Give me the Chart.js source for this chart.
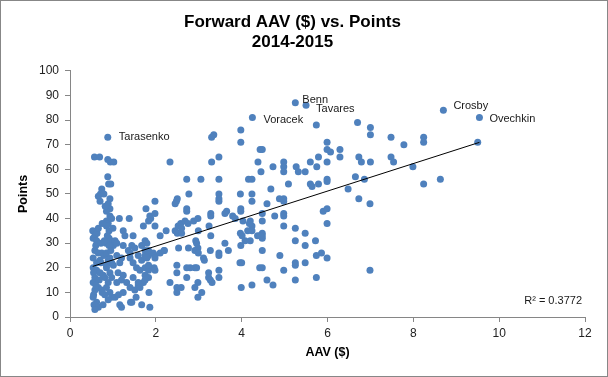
<!DOCTYPE html>
<html>
<head>
<meta charset="utf-8">
<script src="https://cdn.jsdelivr.net/npm/chart.js@4.4.0/dist/chart.umd.min.js"></script>
<style>
  html, body { margin: 0; padding: 0; background: #fff; }
  #wrap { width: 608px; height: 377px; }
</style>
</head>
<body>
<div id="wrap"><canvas id="aavChart"></canvas></div>
<script>
// AAV (millions $) and points for each forward
const aav = [
    0.57, 0.69, 0.88, 0.94, 1.02, 0.90, 0.95, 0.74,
    2.33, 2.72, 3.05, 3.47, 3.30, 3.47, 3.30, 3.35, 3.98, 3.98, 4.16, 4.24, 4.38, 4.43, 4.45,
    5.74, 6.70, 7.00, 7.00, 5.99, 5.99, 6.07, 6.29, 6.29, 4.48, 4.98, 4.73, 4.98, 4.98, 5.27, 5.32, 5.48,
    5.60, 5.79, 5.75, 5.99, 6.73, 6.79, 7.00, 7.48, 7.48, 7.54, 7.78, 8.24, 8.24, 7.99, 4.68, 5.09,
    5.60, 5.64, 5.79, 5.99, 5.99, 6.48, 6.65, 6.86, 8.24, 8.63, 9.50, 6.73, 6.99, 6.99,
    4.24, 4.24, 4.88, 4.98, 4.98, 4.59, 4.48, 4.77, 4.98, 4.98, 5.90, 5.99, 4.20, 4.48, 4.98, 5.25,
    5.48, 5.99, 4.24, 4.24, 4.37, 4.48, 4.48, 4.48, 4.20, 5.25, 5.72, 5.48, 4.48, 4.89, 5.74, 5.86,
    5.99, 5.25, 5.25, 5.48, 4.48, 4.98, 5.74, 4.59, 5.25, 4.73, 4.24,
    2.77, 3.47, 3.47, 3.47, 3.97, 2.48, 2.50, 2.45, 2.72, 2.72, 3.28, 3.28, 3.65, 3.61, 3.79, 3.85,
    3.98, 3.98, 4.14, 4.08, 3.98, 3.61, 3.69, 1.88, 1.86, 1.98, 1.77, 1.98, 1.98, 2.10, 2.24, 2.45,
    2.52, 2.58, 2.68, 2.75, 2.50, 2.60, 2.88, 2.98, 2.99, 3.28, 3.24, 2.53, 2.19, 1.94, 1.98, 1.98,
    1.83, 1.75, 1.75, 2.93, 2.95, 2.98, 2.91, 2.99, 3.11, 3.13, 3.27, 3.47, 3.47, 3.96, 4.00, 3.47,
    3.23, 3.23, 3.27, 3.31, 2.91, 2.95, 2.80, 2.72, 2.72, 2.49, 2.49, 2.33, 2.49, 2.59, 2.49, 2.98,
    2.91, 2.98, 3.07, 3.47, 3.99, 1.84, 1.86, 1.75, 1.83, 1.96, 1.98, 1.75, 1.83,
    4.03, 4.18, 2.60, 2.76, 3.97, 4.01, 4.43, 4.42, 2.10, 2.20, 1.59, 1.71, 1.54, 1.67, 1.41,
    0.71, 0.66, 0.79, 0.70, 0.89, 0.93, 0.85, 0.93, 1.15, 1.38, 0.85, 0.89, 0.85, 0.91, 1.71, 1.83,
    0.53, 0.58, 0.63, 0.54, 0.62, 1.24, 1.28, 1.47, 0.87, 0.91, 0.95, 0.84, 1.01, 0.91, 1.24, 1.44,
    1.51, 1.67, 1.83, 0.58, 0.66, 0.54, 0.74, 0.79, 0.85, 0.93, 0.89, 0.97, 0.85, 1.01, 1.09, 1.20,
    1.16, 1.40, 1.47, 1.59, 1.67, 1.79, 1.83, 0.54, 0.62, 0.55, 0.70, 0.58, 0.77, 0.85, 0.93, 0.81,
    0.97, 0.89, 1.12, 1.24, 1.20, 1.09, 1.32, 1.47, 1.59, 1.40, 1.51, 1.63, 1.75, 0.54, 0.66, 0.58,
    0.74, 0.55, 0.85, 0.93, 0.81, 0.97, 0.89, 0.54, 0.62, 0.56, 0.66, 0.58, 0.77, 1.16, 1.20, 1.44,
    1.05, 1.13, 1.24, 0.62, 0.70, 1.05, 1.09, 1.36, 1.40, 1.75, 1.79, 1.55, 1.63,
    0.60, 0.72, 0.66, 0.75, 0.80, 0.68, 0.75, 0.60, 0.72, 0.95, 1.00, 0.97, 0.93, 0.88, 0.82
];
const pts = [
    65, 65, 64, 63, 63, 54, 54, 52,
    63, 56, 56, 56, 63, 65, 73, 74, 76, 71, 56, 56, 63, 68, 59,
    78, 79, 77, 74, 71, 68, 67, 68, 65, 68, 63, 61, 61, 59, 61, 59, 59,
    63, 65, 61, 63, 65, 63, 63, 73, 65, 63, 70, 73, 71, 61, 52, 54,
    54, 53, 54, 56, 55, 52, 57, 56, 54, 56, 71, 48, 46, 19,
    50, 47, 48, 48, 47, 46, 42, 41, 42, 41, 43, 44, 39, 39, 37, 36,
    34, 38, 37, 35, 33, 34, 33, 32, 31, 31, 31, 29, 27, 25, 25, 26,
    24, 22, 21, 22, 20, 19, 16, 15, 15, 13, 13,
    50, 50, 48, 47, 50, 47, 48, 46, 44, 43, 42, 41, 43, 42, 41, 40,
    44, 43, 35, 31, 29, 30, 27, 40, 41, 47, 44, 42, 37, 33, 35, 35,
    37, 38, 39, 38, 34, 36, 39, 40, 35, 33, 37, 28, 27, 26, 25, 24,
    25, 27, 25, 31, 30, 28, 27, 26, 24, 23, 27, 26, 25, 22, 22, 19,
    18, 16, 15, 14, 20, 20, 20, 20, 16, 21, 18, 14, 12, 12, 10, 14,
    12, 8, 10, 16, 12, 10, 4, 20, 19, 20, 19, 17, 16,
    39, 38, 34, 28, 34, 33, 33, 20, 26, 27, 13, 14, 8, 5, 6,
    50, 49, 50, 47, 46, 44, 43, 41, 40, 40, 39, 38, 37, 35, 37, 39,
    35, 33, 34, 32, 31, 35, 33, 33, 33, 32, 31, 30, 29, 29, 29, 29,
    28, 29, 27, 27, 26, 24, 26, 25, 26, 24, 23, 22, 21, 21, 25, 24,
    22, 24, 22, 25, 23, 24, 21, 20, 19, 18, 18, 16, 17, 20, 18, 16,
    16, 14, 18, 17, 15, 14, 14, 16, 14, 12, 11, 12, 15, 14, 12, 11,
    11, 9, 12, 10, 9, 8, 7, 8, 6, 5, 4, 3, 5, 5, 4, 6,
    8, 9, 10, 22, 23, 31, 30, 27, 26, 31, 30, 20, 19,
    29, 30, 36, 38, 31, 15, 10, 13, 22, 27, 36, 40, 48, 57, 45
];

// labelled players
const starNames = ['Tarasenko', 'Benn', 'Tavares', 'Voracek', 'Crosby', 'Ovechkin'];
const starAav = [0.88, 5.25, 5.50, 4.25, 8.70, 9.54];
const starPts = [73, 87, 86, 81, 84, 81];

// linear trendline as drawn on the picture: points = slope * AAV + intercept
const trendSlope = 5.59;
const trendIntercept = 17.6;
const rSquaredText = 'R² = 0.3772';

const FONT = "'Liberation Sans', Arial, sans-serif";

// scatter points
const allX = aav.concat(starAav);
const allY = pts.concat(starPts);
const scatterData = allX.map((x, i) => ({ x: x, y: allY[i] }));

// trendline spans the data range
const minX = Math.min(...allX);
const maxX = Math.max(...allX);
const trendData = [
    { x: minX, y: trendIntercept + trendSlope * minX },
    { x: maxX, y: trendIntercept + trendSlope * maxX }
];

// white background + outer frame
const framePlugin = {
    id: 'frame',
    beforeDraw: (chart) => {
        const { ctx, width, height } = chart;
        ctx.save();
        ctx.fillStyle = '#fff';
        ctx.fillRect(0, 0, width, height);
        ctx.restore();
    },
    afterDraw: (chart) => {
        const { ctx, width, height } = chart;
        ctx.save();
        ctx.strokeStyle = '#878787';
        ctx.lineWidth = 1;
        ctx.strokeRect(0.5, 0.5, width - 1, height - 1);
        ctx.restore();
    }
};

// name labels next to points + R² text
const labelOffsets = [[11, 0], [7, -3], [10, 4], [11, 2], [10, -4], [10, 1]];
const labelPlugin = {
    id: 'pointLabels',
    afterDatasetsDraw: (chart) => {
        const { ctx, chartArea, scales: { x, y } } = chart;
        ctx.save();
        ctx.font = '11px ' + FONT;
        ctx.fillStyle = '#1a1a1a';
        ctx.textBaseline = 'middle';
        ctx.textAlign = 'left';
        starNames.forEach((name, i) => {
            const px = x.getPixelForValue(starAav[i]);
            const py = y.getPixelForValue(starPts[i]);
            ctx.fillText(name, px + labelOffsets[i][0], py + labelOffsets[i][1]);
        });
        ctx.textAlign = 'right';
        ctx.fillText(rSquaredText, chartArea.right - 3, chartArea.bottom - 16);
        ctx.restore();
    }
};

const axisGray = '#868686';

new Chart(document.getElementById('aavChart').getContext('2d'), {
    data: {
        datasets: [
            {
                type: 'line',
                label: 'Trend',
                data: trendData,
                borderColor: '#000',
                borderWidth: 1,
                pointRadius: 0,
                fill: false,
                order: 0
            },
            {
                type: 'scatter',
                label: 'Forwards',
                data: scatterData,
                backgroundColor: '#4F81BD',
                borderWidth: 0,
                pointRadius: 3.5,
                order: 1
            }
        ]
    },
    options: {
        responsive: true,
        maintainAspectRatio: false,
        animation: false,
        layout: { padding: { left: 0, right: 23, top: 0, bottom: 0 } },
        plugins: {
            legend: { display: false },
            tooltip: { enabled: false },
            title: {
                display: true,
                text: ['Forward AAV ($) vs. Points', '2014-2015'],
                color: '#000',
                font: { family: FONT, size: 17, weight: 'bold', lineHeight: 1.2 },
                padding: { top: 12, bottom: 18 }
            }
        },
        scales: {
            x: {
                type: 'linear',
                min: 0,
                max: 12,
                ticks: { stepSize: 2, color: '#222', padding: 4, font: { family: FONT, size: 12 } },
                grid: { drawOnChartArea: false, drawTicks: true, tickLength: 5, color: axisGray },
                border: { color: axisGray, width: 1 },
                title: {
                    display: true,
                    text: 'AAV ($)',
                    color: '#000',
                    font: { family: FONT, size: 12.5, weight: 'bold' },
                    padding: { top: 0, bottom: 17 }
                },
                afterFit: (scale) => { scale.height = 60; }
            },
            y: {
                type: 'linear',
                min: 0,
                max: 100,
                ticks: { stepSize: 10, color: '#222', padding: 6, font: { family: FONT, size: 12 } },
                grid: { drawOnChartArea: false, drawTicks: true, tickLength: 5, color: axisGray },
                border: { color: axisGray, width: 1 },
                title: {
                    display: true,
                    text: 'Points',
                    color: '#000',
                    font: { family: FONT, size: 12.5, weight: 'bold' },
                    padding: { top: 16, bottom: 0 }
                },
                afterFit: (scale) => { scale.width = 70; }
            }
        }
    },
    plugins: [framePlugin, labelPlugin]
});
</script>
</body>
</html>
